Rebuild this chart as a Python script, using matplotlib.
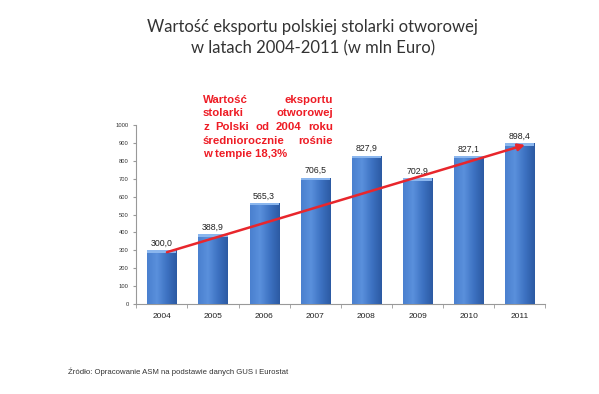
import numpy as np
import matplotlib
matplotlib.use("Agg")
import matplotlib.pyplot as plt
from matplotlib.colors import LinearSegmentedColormap

years = ["2004", "2005", "2006", "2007", "2008", "2009", "2010", "2011"]
values = [300.0, 388.9, 565.3, 706.5, 827.9, 702.9, 827.1, 898.4]
y_ticks = [0, 100, 200, 300, 400, 500, 600, 700, 800, 900, 1000]

title = "Wartość eksportu polskiej stolarki otworowej\nw latach 2004-2011 (w mln Euro)"
note_lines = ["Wartość eksportu",
              "stolarki otworowej",
              "z Polski od 2004 roku",
              "średniorocznie rośnie",
              "w tempie 18,3%"]
source = "Źródło: Opracowanie ASM na podstawie danych GUS i Eurostat"

fig = plt.figure(figsize=(5.99, 3.94), dpi=100)
ax = fig.add_axes([0.2275, 0.228, 0.683, 0.455])

x = np.arange(len(years))
w = 0.57
bars = ax.bar(x, values, width=w, color="#3a6fc0", zorder=2)

# horizontal shading on each bar + lighter cap
shade = LinearSegmentedColormap.from_list("shade", ["#4a80cf", "#5a90dc", "#3d72c2", "#2c5aa3"])
grad = np.linspace(0, 1, 64).reshape(1, -1)
for b, v in zip(bars, values):
    im = ax.imshow(grad, extent=[b.get_x(), b.get_x() + w, 0, v], aspect="auto",
                   cmap=shade, zorder=3)
    im.set_clip_path(b)
    ax.bar(b.get_x() + w / 2, 14, bottom=v - 14, width=w, color="#8ab6ee", zorder=4)

for xi, v in zip(x, values):
    ax.text(xi, v + 14, f"{v:.1f}".replace(".", ","), ha="center", va="bottom",
            fontsize=6.3, color="#222222", family="Liberation Sans", zorder=5)

ax.set_xlim(-0.5, len(years) - 0.5)
ax.set_ylim(0, 1000)
ax.set_yticks(y_ticks)
ax.set_yticklabels([str(t) for t in y_ticks], fontsize=4.2, family="Liberation Sans", color="#333333")
ax.set_xticks(x)
ax.set_xticklabels(years, fontsize=6, family="Liberation Sans", color="#222222")
ax.set_xticks(np.arange(-0.5, len(years)), minor=True)
ax.tick_params(axis="x", which="major", length=0, pad=6)
ax.tick_params(axis="x", which="minor", length=3, color="#999999")
ax.tick_params(axis="y", length=2.5, color="#999999", pad=3)
for s in ["top", "right"]:
    ax.spines[s].set_visible(False)
for s in ["left", "bottom"]:
    ax.spines[s].set_color("#999999")
    ax.spines[s].set_linewidth(0.8)

# trend arrow
ax.annotate("", xy=(len(years) - 1 + 0.1, values[-1] - 10), xytext=(0.1, values[0] - 10),
            arrowprops=dict(arrowstyle="-|>", color="#e8262c", lw=1.8,
                            mutation_scale=10, shrinkA=0, shrinkB=0), zorder=6)

fig.text(0.522, 0.952, title, ha="center", va="top", fontsize=12, family="Lato",
         color="#333333", linespacing=1.4)

# justified red note (last line left aligned)
x0, x1 = 203, 333
y0 = 394 - 100
dy = 13.5
kw = dict(fontsize=8.2, color="#ee1c25", family="Liberation Sans", weight="bold", va="center")
renderer = fig.canvas.get_renderer()
for i, line in enumerate(note_lines):
    yy = (y0 - i * dy) / 394
    words = line.split()
    if i == len(note_lines) - 1 or len(words) == 1:
        fig.text(x0 / 599, yy, line, ha="left", **kw)
        continue
    objs = [fig.text(0, yy, wd, ha="left", **kw) for wd in words]
    widths = [o.get_window_extent(renderer).width for o in objs]
    gap = (x1 - x0 - sum(widths)) / (len(words) - 1)
    pos = x0
    for o, wd in zip(objs, widths):
        o.set_x(pos / 599)
        pos += wd + gap

fig.text(68 / 599, 1 - 372 / 394, source, ha="left", va="center", fontsize=5.6,
         family="Liberation Sans", color="#333333")

fig.savefig("out.png", dpi=100)
